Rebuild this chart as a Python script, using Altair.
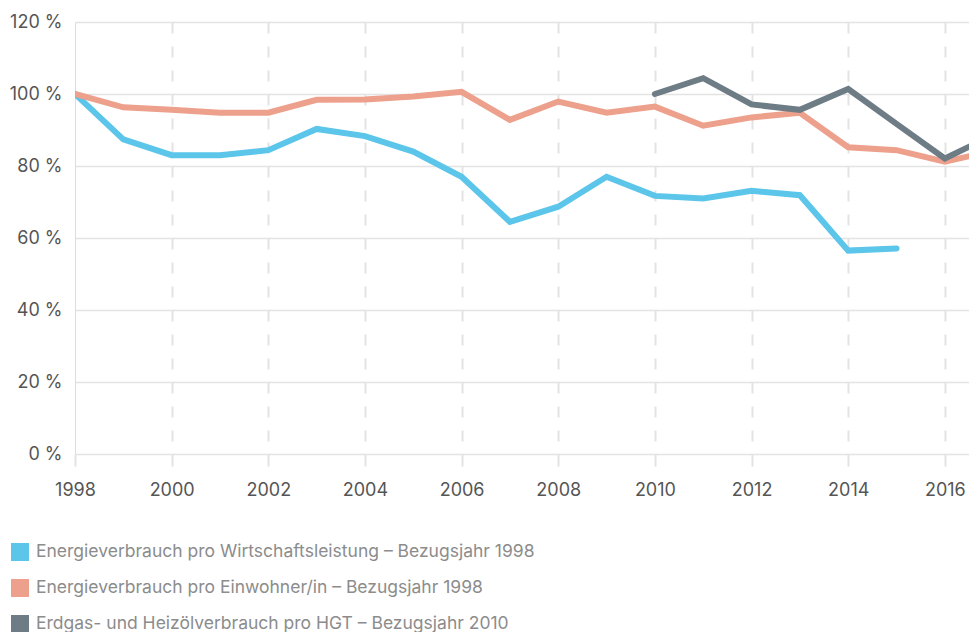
import altair as alt
import pandas as pd

years = list(range(1998, 2018))
wirtschaft = [100, 87.4, 83.0, 83.0, 84.4, 90.3, 88.3, 84.0, 77.0, 64.5,
              68.7, 77.0, 71.7, 71.0, 73.1, 71.9, 56.5, 57.1, None, None]
einwohner = [100, 96.3, 95.6, 94.8, 94.8, 98.4, 98.5, 99.3, 100.6, 92.8,
             97.9, 94.8, 96.5, 91.2, 93.5, 94.8, 85.2, 84.4, 81.2, 84.2]
hgt_years = list(range(2010, 2018))
hgt = [100, 104.4, 97.1, 95.6, 101.4, 91.7, 82.1, 88.6]

series_names = [
    "Energieverbrauch pro Wirtschaftsleistung – Bezugsjahr 1998",
    "Energieverbrauch pro Einwohner/in – Bezugsjahr 1998",
    "Erdgas- und Heizölverbrauch pro HGT – Bezugsjahr 2010",
]
series_colors = ["#5cc5ea", "#eda08b", "#6e7c86"]
x_ticks = list(range(1998, 2017, 2))
y_ticks = [0, 20, 40, 60, 80, 100, 120]

rows = []
for y, v in zip(years, wirtschaft):
    if v is not None:
        rows.append({"Jahr": y, "Wert": v, "Serie": series_names[0]})
for y, v in zip(years, einwohner):
    if v is not None:
        rows.append({"Jahr": y, "Wert": v, "Serie": series_names[1]})
for y, v in zip(hgt_years, hgt):
    rows.append({"Jahr": y, "Wert": v, "Serie": series_names[2]})
df = pd.DataFrame(rows)

FONT = "Inter"

chart = alt.Chart(df).mark_line(
    strokeWidth=6, strokeCap="round", clip=True
).encode(
    x=alt.X("Jahr:Q",
            scale=alt.Scale(domain=[1998, 2016.5], nice=False, zero=False),
            axis=alt.Axis(values=x_ticks, format="d", title=None,
                          domain=False, ticks=True, tickSize=12,
                          tickColor="#e3e3e3", tickWidth=2,
                          grid=True, gridColor="#e3e3e3", gridWidth=2,
                          gridDash=[11, 13],
                          gridOpacity=alt.ExprRef("datum.value == 1998 ? 0 : 1"),
                          labelFont=FONT, labelFontSize=18, labelColor="#555555",
                          labelPadding=15, labelFlush=False)),
    y=alt.Y("Wert:Q",
            scale=alt.Scale(domain=[0, 120], nice=False),
            axis=alt.Axis(values=y_ticks, title=None, domain=False, ticks=False,
                          grid=True, gridColor="#e3e3e3", gridWidth=1.5,
                          labelExpr="datum.value + ' %'",
                          labelFont=FONT, labelFontSize=18, labelColor="#555555",
                          labelPadding=13)),
    color=alt.Color("Serie:N",
                    scale=alt.Scale(domain=series_names, range=series_colors),
                    legend=alt.Legend(orient="none", legendX=-64, legendY=521,
                                      direction="vertical", title=None,
                                      symbolType="square", symbolSize=81,
                                      symbolStrokeWidth=9, symbolOpacity=1,
                                      labelFont=FONT, labelFontSize=17.5,
                                      labelColor="#8c8c8c", labelLimit=0,
                                      labelOffset=7, rowPadding=-10, padding=0)),
    order=alt.Order("Jahr:Q"),
).properties(
    width=894, height=432,
    autosize=alt.AutoSizeParams(type="none"),
    padding={"left": 67, "top": 14, "right": 0, "bottom": 178},
).configure_view(stroke=None).configure(background="white")

chart.save("out.html", embed_options={"renderer": "svg", "actions": False})
